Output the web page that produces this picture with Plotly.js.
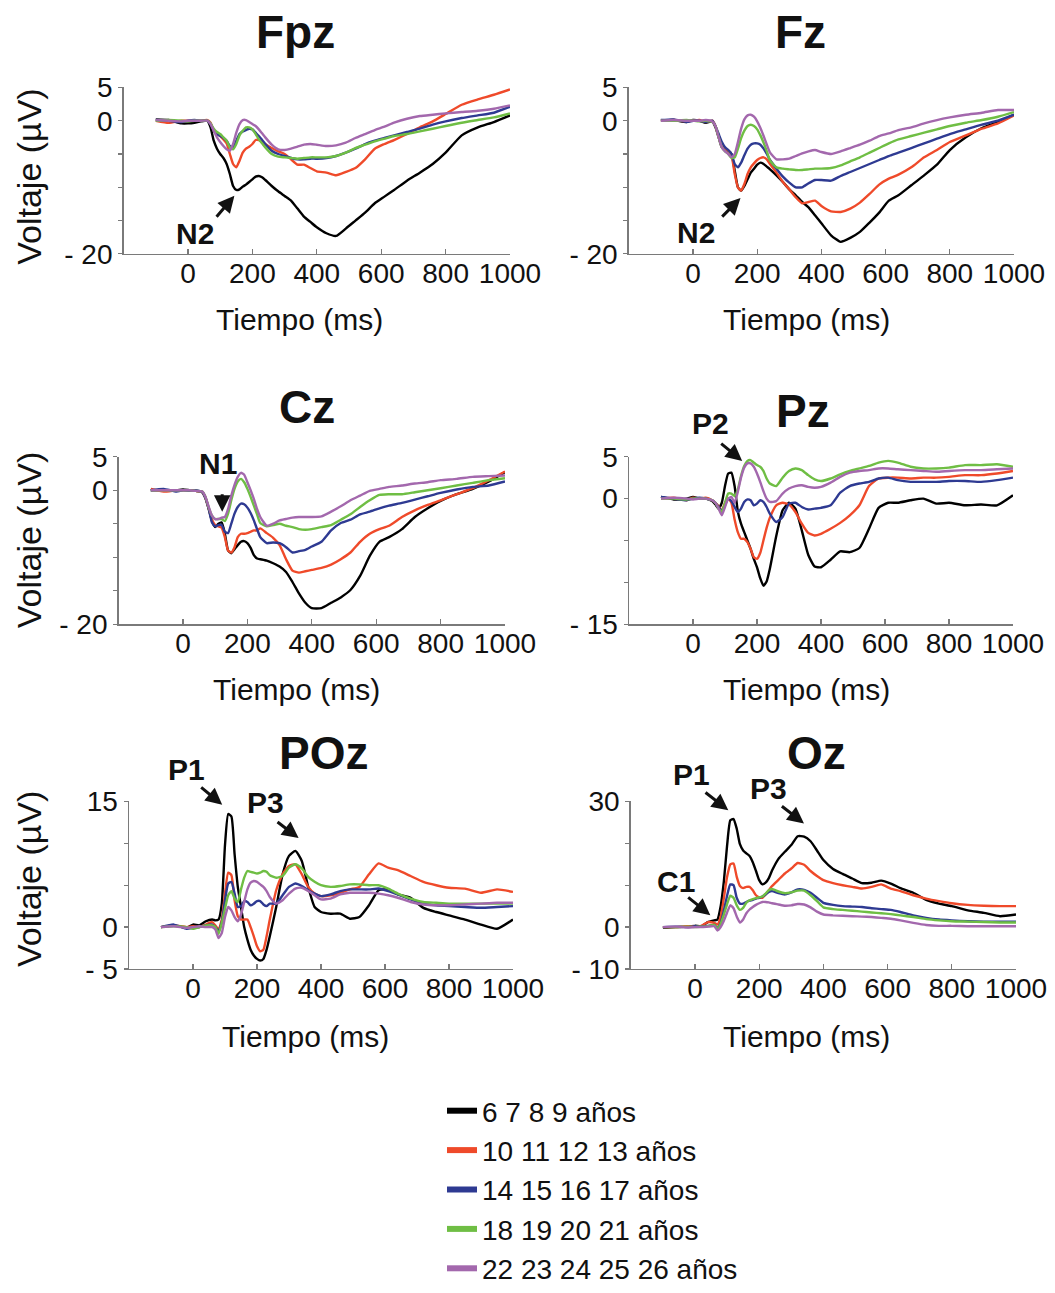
<!DOCTYPE html>
<html>
<head>
<meta charset="utf-8">
<script src="https://cdn.plot.ly/plotly-3.0.1.min.js"></script>
<style>html,body{margin:0;padding:0;background:#fff;}</style>
</head>
<body>
<div id="chart" style="width:1055px;height:1293px;"></div>
<script>
// ---- time axis (ms) ----
const time = [-100,-60,-20,0,20,40,60,70,80,90,100,110,120,130,140,150,160,170,180,190,200,210,220,230,240,260,280,300,320,340,360,380,400,430,460,490,520,550,580,610,640,680,720,760,800,850,900,950,1000];

// ---- age groups ----
const groupNames = ['6 7 8 9 años','10 11 12 13 años','14 15 16 17 años','18 19 20 21 años','22 23 24 25 26 años'];
const groupColors = ['#000000','#ef4a2a','#2e3a92','#6fbe44','#a368ad'];

// ---- Fpz (µV) ----
const fpz_6_9   = [0.2,0.1,-0.4,-0.4,-0.3,-0.1, 0,-1,-3,-4.2,-5,-5.6,-6.5,-8,-9.8,-10.4,-10.3,-9.9,-9.6,-9.2,-8.8,-8.4,-8.3,-8.5,-8.9, -9.8,-10.6,-11.3,-12,-13.2,-14.4,-15.2,-16, -16.9,-17.3,-16.2,-15,-13.8,-12.4,-11.4,-10.4, -9,-7.8,-6.5,-4.8, -2.2,-1,-0.2,0.8];
const fpz_10_13 = [0,-0.3,0,0,0,0, 0.1,-0.3,-1.5,-2,-2.3,-2.8,-3.4,-5,-6.5,-7,-6,-4.8,-4.2,-3.9,-3.5,-2.9,-2.9,-3.2,-3.5, -4.1,-4.6,-5,-5.8,-6.6,-6.6,-7.1,-7.6, -7.8,-8.2,-7.7,-7.1,-5.8,-4.2,-3.5,-2.9, -2,-1,-0.1,1, 2.4,3.2,3.9,4.7];
const fpz_14_17 = [0.1,0,-0.2,0,0.1,0, 0,-0.5,-1.5,-2,-2.3,-2.6,-3,-3.8,-4,-3,-2,-1.6,-1.4,-1.2,-1.3,-1.8,-2.3,-2.9,-3.5, -4.5,-5,-5.3,-5.6,-5.8,-5.8,-5.7,-5.7, -5.6,-5.3,-4.8,-4.2,-3.5,-3,-2.6,-2.2, -1.7,-1.2,-0.6,-0.1, 0.4,0.8,1.2,2.1];
const fpz_18_21 = [0,0.1,0,-0.1,0,0, 0,-0.4,-1.2,-1.7,-2,-2.5,-3,-4,-4.3,-3.5,-2.2,-1.5,-1,-1,-1.3,-2,-2.8,-3.4,-4, -5,-5.4,-5.5,-5.6,-5.7,-5.6,-5.5,-5.5, -5.5,-5.3,-4.8,-4.1,-3.6,-3.1,-2.7,-2.3, -2,-1.6,-1.2,-0.8, -0.3,0.1,0.5,1.1];
const fpz_22_26 = [0.1,0,-0.1,0,0,0, 0,-0.5,-1.5,-2.5,-3.2,-3.8,-4.3,-4.5,-3.5,-1.8,-0.5,0.1,0.1,-0.2,-0.5,-0.8,-1.3,-1.9,-2.5, -3.6,-4.3,-4.4,-4.2,-3.9,-3.6,-3.5,-3.6, -3.8,-3.7,-3.3,-2.6,-2,-1.4,-0.9,-0.3, 0.3,0.7,0.9,1.1, 1.3,1.5,1.8,2.3];

// ---- Fz ----
const fz_6_9   = [0,0.1,-0.2,0.1,0,-0.3, -0.1,-1,-2.5,-4,-4.3,-4.5,-5,-7.5,-10,-10.5,-9.8,-8.8,-7.8,-7.2,-6.6,-6.3,-6.5,-6.9,-7.3, -8.2,-9.2,-10.3,-11.2,-12.2,-13,-14.2,-15.4, -17.2,-18.2,-17.6,-16.7,-15.3,-13.8,-12,-11.2, -9.7,-8.2,-6.6,-4.4, -2.5,-1.1,-0.2,0.9];
const fz_10_13 = [0,0.1,-0.1,0,0.1,-0.2, 0,-0.8,-2.4,-3.8,-4.2,-4.5,-5.2,-8,-10,-10.5,-9.5,-8,-7,-6.4,-5.9,-5.6,-5.5,-5.8,-6.5, -7.8,-9.2,-10.3,-11.5,-12.4,-12.2,-12,-12.8, -13.6,-13.7,-13.2,-12.3,-11,-9.6,-8.7,-8.1, -7,-5.5,-4.4,-3.2, -2.2,-1.2,-0.4,0.8];
const fz_14_17 = [0.1,0.2,-0.2,0,0,-0.2, 0,-0.8,-2,-3.2,-4,-4.4,-5,-6.5,-7,-6.3,-5.2,-4.2,-3.6,-3.4,-3.4,-3.6,-4.2,-5,-5.9, -7.2,-8.4,-9.3,-10,-10,-9.4,-8.9,-8.9, -9,-8.3,-7.7,-7.1,-6.5,-5.9,-5.3,-4.8, -4.1,-3.4,-2.7,-2, -1.3,-0.6,0,0.9];
const fz_18_21 = [0,0,0.1,0,-0.1,0, -0.2,-0.8,-2.5,-4,-4.6,-5,-5.6,-5.5,-4.2,-2.6,-1.5,-0.8,-0.6,-0.8,-1.3,-2.2,-3.3,-4.6,-6, -7,-7.2,-7.3,-7.4,-7.4,-7.3,-7.2,-7.2, -7.1,-6.7,-6.1,-5.5,-4.8,-4.1,-3.4,-2.8, -2.3,-1.8,-1.3,-0.8, -0.3,0.1,0.6,1.3];
const fz_22_26 = [0,0.1,0,0,0,0.1, -0.1,-0.8,-2.5,-4,-4.6,-5,-5.5,-5,-3.2,-1.2,0.2,0.8,0.9,0.6,-0.1,-1.1,-2.3,-3.6,-4.8, -5.8,-5.8,-5.7,-5.3,-4.9,-4.6,-4.4,-4.7, -5,-4.6,-4.1,-3.6,-3,-2.3,-1.9,-1.4, -1,-0.4,0.1,0.5, 0.9,1.2,1.6,1.6];

// ---- Cz ----
const cz_6_9   = [0,0,0,0.1,0,-0.1, -0.3,-1.2,-2.8,-4.6,-5.5,-5,-4.8,-6.5,-9,-9.4,-8.8,-8.2,-7.7,-7.6,-7.9,-8.6,-9.7,-10.2,-10.3, -10.5,-10.9,-11.4,-12.2,-13.7,-15.4,-16.8,-17.6, -17.6,-16.8,-16,-14.9,-12.8,-9.8,-7.7,-7, -5.8,-4,-2.7,-1.6, -0.6,0.2,1.3,2.7];
const cz_10_13 = [0.2,-0.2,0,0,0,-0.1, -0.3,-1.2,-2.8,-4.4,-5.2,-5.4,-5.6,-7,-9,-9.3,-8.5,-7,-6.5,-6.5,-6.4,-6.2,-6,-6,-5.7, -6.4,-7.1,-8.2,-10.3,-12,-12.3,-12.1,-11.9, -11.6,-11.1,-10.3,-9.3,-7.7,-6.5,-5.8,-5.3, -4,-3,-2.2,-1.5, -0.6,0.3,1.5,2.8];
const cz_14_17 = [0,0.2,-0.2,0,-0.1,0, -0.3,-1.2,-2.8,-4.8,-5.4,-5.2,-5.2,-6.2,-6.4,-5,-3.5,-2.5,-2,-2.1,-2.6,-3.4,-4.5,-5.8,-7, -7.9,-7.8,-7.9,-8.5,-9.3,-9.1,-8.9,-8.4, -7.7,-6,-4.9,-4.4,-3.6,-3.2,-2.7,-2.3, -1.9,-1.4,-0.9,-0.4, 0.1,0.5,0.7,1.3];
const cz_18_21 = [0,0,0,0,0,-0.1, -0.2,-1,-2.6,-3.8,-4.3,-4.3,-4.3,-4.6,-3.5,-1.5,0.2,1.3,1.7,1.2,0.2,-1,-2.3,-3.6,-4.9, -5.4,-5.2,-5,-5.3,-5.5,-5.8,-5.9,-5.8, -5.5,-5.2,-4.4,-3.6,-2.5,-1.5,-0.7,-0.6, -0.6,-0.3,0,0.3, 0.7,1.1,1.5,1.8];
const cz_22_26 = [0,0,0,0,0,-0.1, -0.2,-1,-2.5,-3.8,-4.3,-4.3,-4.1,-4,-2.8,-0.8,0.8,2,2.6,2.3,1.2,0,-1.3,-2.8,-4, -5.3,-5,-4.5,-4.3,-4.1,-4,-4,-4, -3.9,-3.2,-2.4,-1.5,-0.8,-0.1,0.2,0.5, 0.7,1,1.2,1.5, 1.7,2,2.1,2.2];

// ---- Pz ----
const pz_6_9   = [0.2,-0.1,0,0.2,0,0, -0.3,-0.7,-1.2,-0.5,1.5,3,3.1,1.5,-1.5,-3,-4,-5,-6,-7.2,-8.2,-9.5,-10.4,-9.9,-8.4, -4.5,-1.4,-0.5,-1.2,-3.8,-6.7,-8.1,-8.2, -7.3,-6.3,-6.4,-5.9,-3.6,-1.1,-0.5,-0.5, -0.2,0,-0.6,-0.5, -0.8,-0.7,-0.8,0.4];
const pz_10_13 = [0,0.1,-0.2,0.1,0,0.1, -0.2,-0.5,-0.9,-1.5,-0.5,0,-0.5,-2.5,-4,-4.8,-4.8,-5.2,-6,-7,-7.2,-6.5,-5,-3.5,-2.3, -0.8,-0.5,-0.7,-1.6,-3,-4.1,-4.4,-4.2, -3.6,-2.9,-2,-0.8,1.5,2.4,2.5,2.5, 2.4,2.5,2.5,2.6, 2.8,2.8,3,3.3];
const pz_14_17 = [0.2,0,-0.2,0,0.1,0, -0.2,-0.5,-1,-1.5,-0.8,0,-0.3,-1,-1.6,-1.2,-0.4,-0.1,-0.2,-0.8,-0.6,-0.2,-0.4,-1,-1.8, -2.8,-2.2,-0.6,-0.5,-1,-1.3,-1.2,-1.1, -0.8,0.7,1.5,1.8,2,2.4,2.5,2.2, 2,2,2,2.1, 2.1,2,2.2,2.5];
const pz_18_21 = [0,0,-0.1,0,0,0, -0.2,-0.5,-1.2,-1.6,-0.5,0.6,0.6,0.3,1.1,2.7,3.9,4.5,4.6,4.3,4,3.8,3.3,2.4,1.8, 1.5,2.5,3.3,3.6,3.4,2.8,2.3,2.1, 2.4,2.9,3.3,3.6,3.9,4.3,4.5,4.3, 3.8,3.6,3.6,3.7, 4,4,4.1,3.8];
const pz_22_26 = [0,0.1,0,-0.1,0,0, -0.2,-0.5,-1.2,-2,-1,0,0.2,-0.5,0.8,2.5,3.7,4.2,4.2,3.8,3,2,0.9,0,-0.4, -0.3,0.6,1.2,1.5,1.6,1.4,1.3,1.4, 1.9,2.6,3.1,3.3,3.4,3.6,3.6,3.5, 3.4,3.3,3.2,3.3, 3.4,3.4,3.5,3.6];

// ---- POz ----
const poz_6_9   = [0,0.2,-0.1,0.3,0.2,0.7, 0.9,0.8,0.9,2.8,9.8,13.5,13.2,8.7,4.8,2.4,0,-1.5,-2.7,-3.4,-3.8,-4,-3.8,-2.7,-1.1, 2.4,6.3,8.5,9.1,7.9,4.8,2.4,1.8, 1.6,1.6,1,1.2,2.6,4.4,4.5,3.9, 3.5,2.3,1.8,1.4, 0.9,0.3,-0.2,0.9];
const poz_10_13 = [0,0.2,0,0.1,0,0.3, 0.6,0.2,-0.3,0.9,4,6.5,6.2,3.2,1.3,0.9,0.9,0.9,0,-1.1,-2.3,-2.9,-2.7,-1.1,0.9, 4.4,6.3,7.3,7.5,6.3,4.8,4,3.7, 3.8,4.1,4.5,4.8,6.3,7.6,7.1,6.8, 6.1,5.4,5,4.7, 4.6,4.1,4.5,4.2];
const poz_14_17 = [0,0.3,-0.2,-0.1,0,0.2, 0.3,0,-0.5,0.6,3.2,5.2,5.4,4,2.4,2.5,3.1,3,2.6,2.8,3.1,3.1,2.7,2.5,2.8, 2.8,3.8,4.8,5.2,4.9,4.4,4,3.7, 3.9,4.3,4.5,4.5,4.5,4.6,4.3,3.9, 3.3,2.8,2.6,2.5, 2.4,2.3,2.4,2.5];
const poz_18_21 = [0,0.1,0,-0.2,0,0.2, 0.2,0,-0.8,0.5,2.2,3.8,4.3,3.4,3,4.5,5.9,6.7,6.6,6.5,6.4,6.5,6.7,6.6,6.2, 5.9,6.1,7.1,7.5,7,6,5.4,5, 4.8,4.9,5.1,5.1,5,5,4.6,4, 3.4,3,2.9,2.8, 2.8,2.8,2.8,2.8];
const poz_22_26 = [0,0.1,-0.1,0,0.1,0, 0,-0.3,-1.3,-0.7,1.2,2.4,2,1.2,0.7,1.5,3,4.5,5.3,5.5,5.4,5.1,4.8,4.3,3.6, 2.8,3.2,4,4.6,4.7,4.3,3.8,3.3, 3.4,3.9,4.1,4.1,4.1,4,3.8,3.5, 3,2.7,2.6,2.6, 2.7,2.8,2.9,2.9];

// ---- Oz ----
const oz_6_9   = [-0.2,0,0.1,0.3,0.2,1.2, 1.6,1.8,5,11,19.5,25.5,25.8,23.5,19.8,18.3,17.6,17,15.5,13.4,11.2,10.2,10.6,11.7,13.5, 16.3,18,19.6,21.7,21.6,20.5,18.3,16, 13.9,12.7,11.6,10.5,10.6,11.1,10.4,9.3, 8.2,6.5,5.6,5, 4,3.4,2.6,3];
const oz_10_13 = [0,0,0.2,0.2,0.3,1.2, 1,0.6,2.5,7,12,15,15.2,12,9.8,9.3,9.6,9.6,8.8,7.6,7.1,7,7.8,8.8,9.8, 11.3,12.8,14,15.3,14.9,13.4,12.2,11.2, 10.5,10,9.6,9.2,9.6,10.2,9.2,8.6, 7.6,6.8,6.2,5.7, 5.3,5.1,5,5];
const oz_14_17 = [0,0.1,0,0.2,0.1,0.3, 0.5,-0.2,1,4,7.5,10.2,10,7,5.6,5.6,6,6.3,6.5,6.8,7,7.3,7.8,8.4,8.6, 8.1,7.8,8.3,9,8.9,8.2,7,5.8, 5.3,5,4.9,4.8,4.5,4.3,4.1,3.6, 2.8,2.2,1.8,1.6, 1.4,1.3,1.3,1.3];
const oz_18_21 = [0,0,0.1,0,0.1,0.2, 0.5,-0.4,0.8,3,5.5,7.5,7,5.2,4.1,4.6,5.8,6.4,6.7,6.9,7.1,7.3,8,8.8,9.1, 8.5,8.1,8.3,8.7,8.7,7.6,6.2,4.7, 4.3,4.1,3.9,3.7,3.5,3.3,3.1,2.8, 2.4,1.9,1.6,1.4, 1.3,1.2,1.1,1.1];
const oz_22_26 = [0,0.1,-0.1,0,0,0.1, 0.2,-0.8,0,1.5,3.5,5.2,4.5,2.5,1.1,1.8,3.3,4.2,4.8,5.3,5.7,6,6,5.9,5.7, 5.4,5.1,5.2,5.5,5.4,4.7,3.7,3, 2.8,2.7,2.6,2.5,2.4,2.2,2,1.6, 1,0.5,0.3,0.3, 0.2,0.2,0.2,0.2];

// ---- axis ticks ----
const xTickVals = [0,200,400,600,800,1000];
const xTickText = ['0','200','400','600','800','1000'];
const yTicks20 = [-20,-15,-10,-5,0,5];
const yText20  = ['- 20','','','','0','5'];
const yTicks15 = [-15,-10,-5,0,5];
const yText15  = ['- 15','','','0','5'];
const yTicksPOz = [-5,0,5,10,15];
const yTextPOz  = ['- 5','0','','','15'];
const yTicksOz = [-10,0,10,20,30];
const yTextOz  = ['- 10','0','','','30'];

// ---- figure build ----
const W = 1055, H = 1293;
const px = v => v / W;
const py = v => 1 - v / H;
const FONT = 'Arial, "Liberation Sans", sans-serif';

const panels = [
  {name:'Fpz', data:[fpz_6_9,fpz_10_13,fpz_14_17,fpz_18_21,fpz_22_26], range:[-20,5], tv:yTicks20, tt:yText20,
   box:[123.6,510,89,258.5]},
  {name:'Fz', data:[fz_6_9,fz_10_13,fz_14_17,fz_18_21,fz_22_26], range:[-20,5], tv:yTicks20, tt:yText20,
   box:[628.8,1014,89,258.5]},
  {name:'Cz', data:[cz_6_9,cz_10_13,cz_14_17,cz_18_21,cz_22_26], range:[-20,5], tv:yTicks20, tt:yText20,
   box:[118.6,505,465,635.5]},
  {name:'Pz', data:[pz_6_9,pz_10_13,pz_14_17,pz_18_21,pz_22_26], range:[-15,5], tv:yTicks15, tt:yText15,
   box:[629,1013,465,635.5]},
  {name:'POz', data:[poz_6_9,poz_10_13,poz_14_17,poz_18_21,poz_22_26], range:[-5,15], tv:yTicksPOz, tt:yTextPOz,
   box:[129,513,816,986.5]},
  {name:'Oz', data:[oz_6_9,oz_10_13,oz_14_17,oz_18_21,oz_22_26], range:[-10,30], tv:yTicksOz, tt:yTextOz,
   box:[630.8,1016,816,986.5]}
];

const traces = [];
const layout = {
  width: W, height: H,
  margin: {l:0, r:0, t:0, b:0},
  paper_bgcolor: '#ffffff', plot_bgcolor: '#ffffff',
  font: {family: FONT, color: '#111111'},
  showlegend: true,
  legend: {
    x: px(442), y: py(1106), xanchor: 'left', yanchor: 'top',
    font: {family: FONT, size: 28, color: '#111111'},
    bgcolor: 'rgba(0,0,0,0)', borderwidth: 0, tracegroupgap: 0,
    itemclick: false, itemdoubleclick: false
  },
  annotations: []
};

panels.forEach((p, i) => {
  const k = i + 1;
  const xa = 'x' + (k === 1 ? '' : k), ya = 'y' + (k === 1 ? '' : k);
  const xkey = 'xaxis' + (k === 1 ? '' : k), ykey = 'yaxis' + (k === 1 ? '' : k);
  p.data.forEach((vals, g) => {
    traces.push({
      type: 'scatter', mode: 'lines', x: time, y: vals,
      xaxis: xa, yaxis: ya, showlegend: false, name: groupNames[g],
      line: {color: groupColors[g], width: 2.4, shape: 'spline', smoothing: 0.5},
      hoverinfo: 'skip'
    });
  });
  const [x0, x1, yTop, yBot] = p.box;
  layout[xkey] = {
    domain: [px(x0), px(x1)], range: [-200, 1000], anchor: ya,
    tickvals: xTickVals, ticktext: xTickText,
    ticks: 'inside', ticklen: 5, tickwidth: 1.2, tickcolor: '#7a7a7a',
    ticklabelstandoff: -6,
    showline: true, linecolor: '#7a7a7a', linewidth: 1.5,
    showgrid: false, zeroline: false, fixedrange: true,
    tickfont: {family: FONT, size: 28, color: '#111111'}
  };
  layout[ykey] = {
    domain: [py(yBot), py(yTop)], range: p.range, anchor: xa,
    tickvals: p.tv, ticktext: p.tt,
    ticks: 'outside', ticklen: 4, tickwidth: 1.2, tickcolor: '#7a7a7a',
    showline: true, linecolor: '#7a7a7a', linewidth: 1.5,
    showgrid: false, zeroline: false, fixedrange: true,
    tickfont: {family: FONT, size: 28, color: '#111111'}
  };
});

// legend entries (no data, thick lines)
groupNames.forEach((n, g) => {
  traces.push({
    type: 'scatter', mode: 'lines', x: [null], y: [null], name: n,
    line: {color: groupColors[g], width: 6}, showlegend: true, hoverinfo: 'skip'
  });
});

// subplot titles
const titleSpecs = [['Fpz',295,33],['Fz',800,33],['Cz',307,414],['Pz',803,418],['POz',323,767],['Oz',816,767]];
titleSpecs.forEach(([t,x,y]) => layout.annotations.push({
  text: '<b>'+t+'</b>', xref:'paper', yref:'paper', x:px(x), y:py(y),
  xanchor:'center', yanchor:'middle', showarrow:false,
  font:{family:FONT, size:46, color:'#111111'}
}));

// axis titles
[[299,325],[806,325],[296,702],[806,702],[305,1055],[806,1055]].forEach(([x,y]) => layout.annotations.push({
  text:'Tiempo (ms)', xref:'paper', yref:'paper', x:px(x), y:py(y),
  xanchor:'center', yanchor:'middle', showarrow:false,
  font:{family:FONT, size:30, color:'#111111'}
}));
[180,550,895].forEach(y => layout.annotations.push({
  text:'Voltaje (µV)', xref:'paper', yref:'paper', x:px(29), y:py(y),
  xanchor:'center', yanchor:'middle', showarrow:false, textangle:-90,
  font:{family:FONT, size:34, color:'#111111'}
}));

// component labels
const compLabels = [['N2',195,237.5],['N2',696,237],['N1',218,472],['P2',710,431],['P1',186,783],['P3',265,817],['P1',691,789],['P3',768,803],['C1',676,897]];
compLabels.forEach(([t,x,y]) => layout.annotations.push({
  text:'<b>'+t+'</b>', xref:'paper', yref:'paper', x:px(x), y:py(y),
  xanchor:'center', yanchor:'middle', showarrow:false,
  font:{family:FONT, size:30, color:'#111111'}
}));
// arrows: [headX, headY, tailX, tailY]
const arrows = [[234.4,199.3,215.3,221.7],[740.5,201.7,720.7,221.7],[222.2,521,222.2,502],[742.2,469.3,719.7,450.7],
  [222.2,819.3,199.7,800.7],[298.6,853.3,276,836],[728.3,825,704,806],[804,838.3,780.4,820],[710.3,931.7,686.7,912.7]];
arrows.forEach(([hx,hy,tx,ty]) => layout.annotations.push({
  text:'', xref:'paper', yref:'paper', x:px(hx), y:py(hy),
  ax: tx-hx, ay: ty-hy, showarrow:true, arrowhead:2, arrowsize:1.1, arrowwidth:3, arrowcolor:'#111111'
}));

Plotly.newPlot('chart', traces, layout, {staticPlot:true, displayModeBar:false});
</script>
</body>
</html>
